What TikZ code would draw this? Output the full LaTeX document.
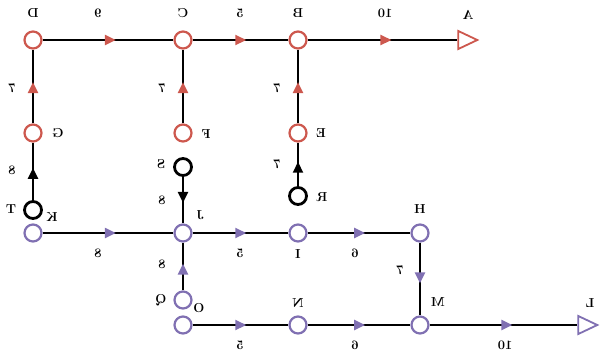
\documentclass[tikz,border=0pt]{standalone}
\usetikzlibrary{arrows.meta,decorations.markings,shapes.geometric}
\definecolor{rd}{RGB}{205,88,78}
\definecolor{pu}{RGB}{128,112,178}
\newcommand\mirtxt[1]{\scalebox{-1}[1]{#1}}
\tikzset{
  nd/.style={circle,fill=white,line width=2.2pt,minimum size=17pt,inner sep=0pt},
  rn/.style={nd,draw=rd},
  pn/.style={nd,draw=pu},
  bn/.style={nd,draw=black,line width=2.8pt},
  tri/.style={isosceles triangle,isosceles triangle stretches,shape border rotate=0,
     minimum width=18pt,minimum height=19pt,inner sep=0pt,fill=white,line width=1.8pt},
  lab/.style={font=\fontsize{13}{15}\selectfont\bfseries,inner sep=1pt},
  ln/.style={line width=2.2pt,black},
  ar/.style={postaction=decorate,decoration={markings,
     mark=at position 0.56 with {\arrow[#1]{Triangle[length=11pt,width=10pt]}}}}
}
\begin{document}
\begin{tikzpicture}[x=1pt,y=-1pt]
\useasboundingbox (0,0) rectangle (602,360);
% nodes
\node[rn] (D) at (33,40) {};
\node[rn] (C) at (183,40) {};
\node[rn] (B) at (298,40) {};
\node[tri,draw=rd] (A) at (464,40) {};
\node[rn] (G) at (33,133) {};
\node[rn] (F) at (183,133) {};
\node[rn] (E) at (298,133) {};
\node[bn] (T) at (33,210) {};
\node[bn] (S) at (183,167) {};
\node[bn] (R) at (298,196) {};
\node[pn] (K) at (33,233) {};
\node[pn] (J) at (183,233) {};
\node[pn] (I) at (298,233) {};
\node[pn] (H) at (420,233) {};
\node[pn] (Q) at (183,300) {};
\node[pn] (O) at (183,325) {};
\node[pn] (N) at (298,325) {};
\node[pn] (M) at (420,325) {};
\node[tri,draw=pu] (L) at (584,325) {};
% edges
\draw[ln,ar=rd] (D) -- (C);
\draw[ln,ar=rd] (C) -- (B);
\draw[ln,ar=rd] (B) -- (A);
\draw[ln,ar=rd] (G) -- (D);
\draw[ln,ar=rd] (F) -- (C);
\draw[ln,ar=rd] (E) -- (B);
\draw[ln,ar=black] (R) -- (E);
\draw[ln,ar=black] (T) -- (G);
\draw[ln,ar=black] (S) -- (J);
\draw[ln,ar=pu] (K) -- (J);
\draw[ln,ar=pu] (J) -- (I);
\draw[ln,ar=pu] (I) -- (H);
\draw[ln,ar=pu] (H) -- (M);
\draw[ln,ar=pu] (Q) -- (J);
\draw[ln,ar=pu] (O) -- (N);
\draw[ln,ar=pu] (N) -- (M);
\draw[ln,ar=pu] (M) -- (L);
% node labels
\node[lab] (tD) at (33,13) {\mirtxt{D}};
\node[lab] (tC) at (183,13) {\mirtxt{C}};
\node[lab] (tB) at (298,13) {\mirtxt{B}};
\node[lab] (tA) at (468,15) {\mirtxt{A}};
\node[lab] (tG) at (58,133) {\mirtxt{G}};
\node[lab] (tF) at (206,134) {\mirtxt{F}};
\node[lab] (tE) at (321,133) {\mirtxt{E}};
\node[lab] (tS) at (161,164) {\mirtxt{S}};
\node[lab] (tR) at (322,197) {\mirtxt{R}};
\node[lab] (tT) at (11,209) {\mirtxt{T}};
\node[lab] (tK) at (52,217) {\mirtxt{K}};
\node[lab] (tJ) at (200,215) {\mirtxt{J}};
\node[lab] (tI) at (298,254) {\mirtxt{I}};
\node[lab] (tH) at (420,209) {\mirtxt{H}};
\node[lab] (tQ) at (161,300) {\mirtxt{Q}};
\node[lab] (tO) at (199,308) {\mirtxt{O}};
\node[lab] (tN) at (298,303) {\mirtxt{N}};
\node[lab] (tM) at (438,302) {\mirtxt{M}};
\node[lab] (tL) at (590,303) {\mirtxt{L}};
% edge labels
\node[lab] (wDC) at (98,13) {\mirtxt{9}};
\node[lab] (wCB) at (240,13) {\mirtxt{5}};
\node[lab] (wBA) at (385,13) {\mirtxt{10}};
\node[lab] (wGD) at (12,88) {\mirtxt{7}};
\node[lab] (wFC) at (162,88) {\mirtxt{7}};
\node[lab] (wEB) at (277,88) {\mirtxt{7}};
\node[lab] (wRE) at (277,164) {\mirtxt{7}};
\node[lab] (wTG) at (12,170) {\mirtxt{8}};
\node[lab] (wSJ) at (162,200) {\mirtxt{8}};
\node[lab] (wQJ) at (162,264) {\mirtxt{8}};
\node[lab] (wHM) at (400,270) {\mirtxt{7}};
\node[lab] (wKJ) at (98,253) {\mirtxt{8}};
\node[lab] (wJI) at (240,253) {\mirtxt{5}};
\node[lab] (wIH) at (355,253) {\mirtxt{6}};
\node[lab] (wON) at (240,345) {\mirtxt{5}};
\node[lab] (wNM) at (355,345) {\mirtxt{6}};
\node[lab] (wML) at (505,345) {\mirtxt{10}};
\end{tikzpicture}
\end{document}
